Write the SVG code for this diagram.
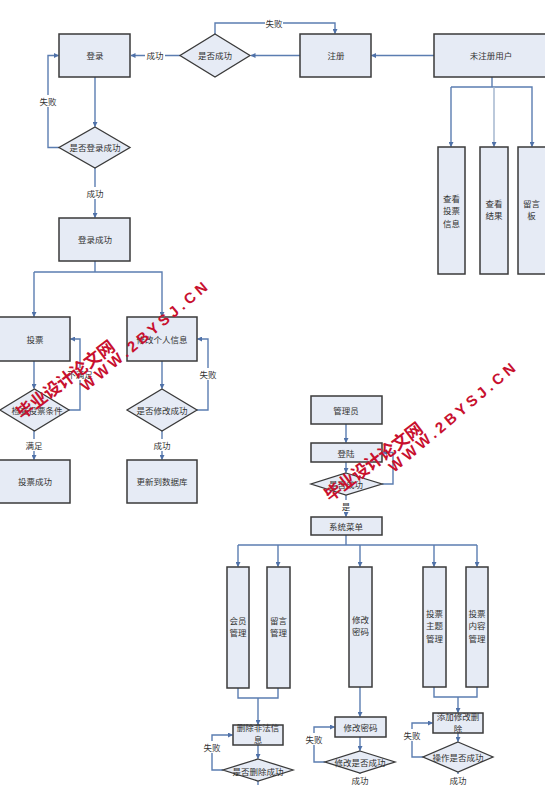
<svg xmlns="http://www.w3.org/2000/svg" width="545" height="785" viewBox="0 0 545 785">
<defs>
<marker id="ar" viewBox="0 0 10 10" refX="9" refY="5" markerWidth="5" markerHeight="5" orient="auto" markerUnits="userSpaceOnUse">
<path d="M0,0 L10,5 L0,10 z" fill="#4F71A8"/>
</marker>
<style>
.box{fill:#E6EBF5;stroke:#3A3A3A;stroke-width:1.5}
.dia{fill:#E6EBF5;stroke:#3A3A3A;stroke-width:1.3}
.ln{fill:none;stroke:#5B7DB1;stroke-width:1.4}
.la{fill:none;stroke:#5B7DB1;stroke-width:1.4;marker-end:url(#ar)}
.t{font-family:"Noto Sans CJK SC","Liberation Sans",sans-serif;font-size:8.5px;fill:#333;text-anchor:middle;dominant-baseline:central}
.lb{font-family:"Noto Sans CJK SC","Liberation Sans",sans-serif;font-size:8.5px;fill:#333;text-anchor:middle;dominant-baseline:central}
.v{font-family:"Noto Sans CJK SC","Liberation Sans",sans-serif;font-size:8.5px;fill:#333;text-anchor:middle}
.bg{fill:#fff}
.wm{font-family:"Noto Sans CJK SC",sans-serif;font-weight:bold;font-size:17px;fill:#C8102E}
.wm2{font-family:"Liberation Sans",sans-serif;font-weight:bold;font-size:15px;fill:#C8102E}
</style>
</defs>
<rect width="545" height="785" fill="#fff"/>

<g id="connectors">
<path class="la" d="M434,55.5 H371.5"/>
<path class="la" d="M300,55.5 H251"/>
<path class="la" d="M180,55.5 H131"/>
<path class="la" d="M215,34 V23 H335 V33.5"/>
<path class="la" d="M95,77 V126.5"/>
<path class="la" d="M59,147.5 H48 V55.5 H58.5"/>
<path class="la" d="M95,168 V217.5"/>
<path class="ln" d="M95,261 V272"/>
<path class="la" d="M34,272 H162 V316.5"/>
<path class="la" d="M34,272 V316.5"/>
<path class="la" d="M34,361 V388.5"/>
<path class="la" d="M69,410 H80 V339 H70.5"/>
<path class="la" d="M34,431 V459.5"/>
<path class="la" d="M162,361 V388.5"/>
<path class="la" d="M197,410 H208 V339 H197.5"/>
<path class="la" d="M162,431 V459.5"/>
<path class="ln" d="M492,77 V87"/>
<path class="la" d="M451,87 H532 V146.5"/>
<path class="la" d="M451,87 V146.5"/>
<path class="la" d="M494,87 V146.5" style="stroke:#9FB2CC"/>
<path class="la" d="M346,424 V442.5"/>
<path class="la" d="M346,462 V472.5"/>
<path class="la" d="M382,484 H393 V452.5 H382.5"/>
<path class="la" d="M346,495 V516.5"/>
<path class="ln" d="M346,535 V545"/>
<path class="ln" d="M238,545 H477"/>
<path class="la" d="M238,545 V566.5"/>
<path class="la" d="M278,545 V566.5"/>
<path class="la" d="M360,545 V566.5"/>
<path class="la" d="M434,545 V566.5"/>
<path class="la" d="M477,545 V566.5"/>
<path class="ln" d="M238,688 V698 H278 V688"/>
<path class="la" d="M258,698 V724.5"/>
<path class="la" d="M258,745 V758.5"/>
<path class="la" d="M223,770 H212 V735 H232.5"/>
<path class="ln" d="M258,781 V785"/>
<path class="la" d="M360,687 V716.5"/>
<path class="la" d="M360,737 V750.5"/>
<path class="la" d="M325,762 H314 V727 H334.5"/>
<path class="ln" d="M360,773 V785"/>
<path class="ln" d="M434,687 V697 H477 V687"/>
<path class="la" d="M458,697 V712.5"/>
<path class="la" d="M458,733 V741.5"/>
<path class="la" d="M423,757 H412 V723 H432.5"/>
<path class="ln" d="M458,772 V785"/>
</g>

<g id="edge-labels">
<rect class="bg" x="145" y="49" width="20" height="12"/><text class="lb" x="155" y="55">成功</text>
<rect class="bg" x="265" y="17" width="18" height="12"/><text class="lb" x="274" y="23">失败</text>
<rect class="bg" x="39" y="95" width="18" height="12"/><text class="lb" x="48" y="101">失败</text>
<rect class="bg" x="86" y="187" width="18" height="12"/><text class="lb" x="95" y="193">成功</text>
<rect class="bg" x="67" y="368" width="26" height="12"/><text class="lb" x="80" y="374">不满足</text>
<rect class="bg" x="25" y="439" width="18" height="12"/><text class="lb" x="34" y="445">满足</text>
<rect class="bg" x="199" y="368" width="18" height="12"/><text class="lb" x="208" y="374">失败</text>
<rect class="bg" x="153" y="439" width="18" height="12"/><text class="lb" x="162" y="445">成功</text>
<rect class="bg" x="341" y="500" width="10" height="12"/><text class="lb" x="346" y="506">是</text>
<rect class="bg" x="203" y="741" width="18" height="12"/><text class="lb" x="212" y="747">失败</text>
<rect class="bg" x="305" y="733" width="18" height="12"/><text class="lb" x="314" y="739">失败</text>
<rect class="bg" x="351" y="774" width="18" height="11"/><text class="lb" x="360" y="779.5">成功</text>
<rect class="bg" x="403" y="729" width="18" height="12"/><text class="lb" x="412" y="735">失败</text>
<rect class="bg" x="449" y="774" width="18" height="11"/><text class="lb" x="458" y="779.5">成功</text>
</g>

<g id="n-denglu"><rect class="box" x="59" y="34" width="71" height="43"/><text class="t" x="95" y="55">登录</text></g>
<g id="n-shifouchenggong"><polygon class="dia" points="215,34 250,55.5 215,77 180,55.5"/><text class="t" x="215" y="55">是否成功</text></g>
<g id="n-zhuce"><rect class="box" x="300" y="34" width="71" height="43"/><text class="t" x="336" y="55">注册</text></g>
<g id="n-weizhuce"><rect class="box" x="434" y="34" width="113" height="43"/><text class="t" x="491" y="55">未注册用户</text></g>
<g id="n-dlcg-q"><polygon class="dia" points="95,127 130,147.5 95,168 59,147.5"/><text class="t" x="95" y="147">是否登录成功</text></g>
<g id="n-dlcg"><rect class="box" x="59" y="218" width="71" height="43"/><text class="t" x="95" y="239">登录成功</text></g>
<g id="n-toupiao"><rect class="box" x="-2" y="317" width="72" height="44"/><text class="t" x="35" y="339">投票</text></g>
<g id="n-xiugaixinxi"><rect class="box" x="127" y="317" width="70" height="44"/><text class="t" x="162" y="339">修改个人信息</text></g>
<g id="n-jiancha"><polygon class="dia" points="34.5,389 69,410 34.5,431 0,410"/><text class="t" x="37" y="410">检查投票条件</text></g>
<g id="n-xgcg-q"><polygon class="dia" points="162,389 197,410 162,431 127,410"/><text class="t" x="162" y="410">是否修改成功</text></g>
<g id="n-tpcg"><rect class="box" x="-2" y="460" width="72" height="43"/><text class="t" x="35" y="481">投票成功</text></g>
<g id="n-gengxin"><rect class="box" x="127" y="460" width="70" height="43"/><text class="t" x="162" y="481">更新到数据库</text></g>

<g id="n-chakantoupiao"><rect class="box" x="438" y="147" width="27" height="127"/><text class="v" x="451.5" y="202"><tspan x="451.5">查看</tspan><tspan x="451.5" dy="12.4">投票</tspan><tspan x="451.5" dy="12.4">信息</tspan></text></g>
<g id="n-chakanjieguo"><rect class="box" x="480" y="147" width="28" height="127"/><text class="v" x="494" y="207"><tspan x="494">查看</tspan><tspan x="494" dy="12.4">结果</tspan></text></g>
<g id="n-liuyanban"><rect class="box" x="518" y="147" width="28" height="127"/><text class="v" x="531.5" y="207"><tspan x="531.5">留言</tspan><tspan x="531.5" dy="12.4">板</tspan></text></g>

<g id="n-guanliyuan"><rect class="box" x="311" y="396" width="71" height="28"/><text class="t" x="346" y="410">管理员</text></g>
<g id="n-denglu2"><rect class="box" x="311" y="443" width="71" height="19"/><text class="t" x="346" y="452.5">登陆</text></g>
<g id="n-sfcg2"><polygon class="dia" points="346,473 382,484 346,495 311,484"/><text class="t" x="346" y="484">是否成功</text></g>
<g id="n-xitongcaidan"><rect class="box" x="311" y="517" width="71" height="18"/><text class="t" x="346" y="526">系统菜单</text></g>

<g id="n-huiyuan"><rect class="box" x="227" y="567" width="22" height="121"/><text class="v" x="238" y="624"><tspan x="238">会员</tspan><tspan x="238" dy="12.4">管理</tspan></text></g>
<g id="n-liuyan"><rect class="box" x="267" y="567" width="23" height="121"/><text class="v" x="278.5" y="624"><tspan x="278.5">留言</tspan><tspan x="278.5" dy="12.4">管理</tspan></text></g>
<g id="n-xiugaimima"><rect class="box" x="349" y="567" width="23" height="120"/><text class="v" x="360.5" y="623"><tspan x="360.5">修改</tspan><tspan x="360.5" dy="12.4">密码</tspan></text></g>
<g id="n-tpzhuti"><rect class="box" x="423" y="567" width="23" height="120"/><text class="v" x="434.5" y="617"><tspan x="434.5">投票</tspan><tspan x="434.5" dy="12.4">主题</tspan><tspan x="434.5" dy="12.4">管理</tspan></text></g>
<g id="n-tpneirong"><rect class="box" x="466" y="567" width="22" height="120"/><text class="v" x="477" y="617"><tspan x="477">投票</tspan><tspan x="477" dy="12.4">内容</tspan><tspan x="477" dy="12.4">管理</tspan></text></g>

<g id="n-shanchu"><rect class="box" x="233" y="725" width="50" height="20"/><text class="v" x="258" y="731"><tspan x="258">删除非法信</tspan><tspan x="258" dy="12.4">息</tspan></text></g>
<g id="n-sccg-q"><polygon class="dia" points="258,759 293,770 258,781 223,770"/><text class="t" x="258" y="770.5">是否删除成功</text></g>
<g id="n-xgmm2"><rect class="box" x="335" y="717" width="51" height="20"/><text class="t" x="360.5" y="727">修改密码</text></g>
<g id="n-xgcg2-q"><polygon class="dia" points="360,751 395,762 360,773 325,762"/><text class="t" x="360" y="762">修改是否成功</text></g>
<g id="n-tianjia"><rect class="box" x="433" y="713" width="50" height="20"/><text class="v" x="458" y="719.5"><tspan x="458">添加修改删</tspan><tspan x="458" dy="12.4">除</tspan></text></g>
<g id="n-czcg-q"><polygon class="dia" points="458,742 493,757 458,772 423,757"/><text class="t" x="458" y="757">操作是否成功</text></g>

<g id="watermark">
<text class="wm" transform="translate(22,420) rotate(-37)" textLength="118" lengthAdjust="spacing">毕业设计论文网</text>
<text class="wm2" transform="translate(86,392) rotate(-40)" textLength="160" lengthAdjust="spacing">WWW.2BYSJ.CN</text>
<text class="wm" transform="translate(330,502) rotate(-37)" textLength="118" lengthAdjust="spacing">毕业设计论文网</text>
<text class="wm2" transform="translate(394,473) rotate(-40)" textLength="160" lengthAdjust="spacing">WWW.2BYSJ.CN</text>
</g>
</svg>
